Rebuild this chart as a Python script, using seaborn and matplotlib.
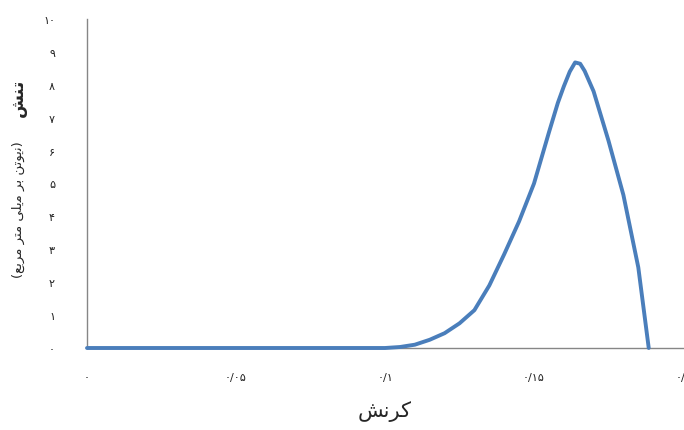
import matplotlib
matplotlib.use("Agg")
import matplotlib.pyplot as plt
import seaborn as sns
import pandas as pd

# Data
strain = [0.0, 0.05, 0.100, 0.105, 0.110, 0.115, 0.120, 0.125, 0.130, 0.135,
          0.140, 0.145, 0.150, 0.155, 0.158, 0.160, 0.162, 0.1638, 0.1655,
          0.167, 0.170, 0.175, 0.180, 0.185, 0.1885]
stress = [0.0, 0.0, 0.0, 0.03, 0.10, 0.25, 0.45, 0.75, 1.15, 1.90,
          2.85, 3.85, 5.00, 6.55, 7.45, 7.95, 8.40, 8.68, 8.64,
          8.42, 7.80, 6.30, 4.65, 2.45, 0.0]

x_ticks = [0.0, 0.05, 0.1, 0.15, 0.2]
x_tick_labels = ["۰", "۰/۰۵", "۰/۱", "۰/۱۵", "۰/۲"]
y_ticks = list(range(0, 11))
y_tick_labels = ["۰", "۱", "۲", "۳", "۴", "۵", "۶", "۷", "۸", "۹", "۱۰"]

# Persian labels (presentation forms, visual order, since matplotlib has no RTL shaping)
x_label = "\uFEB6\uFEE7\uFEAE\uFB90"                 # کرنش
y_label_main = "\uFEB6\uFEE8\uFE97"                  # تنش
y_label_unit = ("(" + "\uFECA\uFE91\uFEAE\uFEE3" + " " + "\uFEAE\uFE98\uFEE3" + " "
                + "\uFBFD\uFEE0\uFBFE\uFEE3" + " " + "\uFEAE\uFE91" + " "
                + "\uFEE6\uFE97\uFEEE\uFBFE\uFEE7" + ")")  # (نیوتن بر میلی متر مربع)

df = pd.DataFrame({"strain": strain, "stress": stress})

sns.set_theme(style="white")
plt.rcParams["font.family"] = ["DejaVu Sans"]

W, H = 684, 431
fig = plt.figure(figsize=(W / 100, H / 100), dpi=100)
ax = fig.add_axes([87 / W, 1 - 349 / H, (683 - 87) / W, (349 - 20) / H])

line_color = "#4A7EBB"
sns.lineplot(data=df, x="strain", y="stress", ax=ax, sort=False,
             color=line_color, linewidth=2.8, clip_on=False, zorder=5,
             solid_joinstyle="round", solid_capstyle="round")

ax.set_xlim(0, 0.2)
ax.set_ylim(0, 10)
ax.set_xticks(x_ticks)
ax.set_xticklabels(x_tick_labels, fontsize=8, color="#222222")
ax.set_yticks(y_ticks)
ax.set_yticklabels(y_tick_labels, fontsize=8, color="#222222")

for s in ["top", "right"]:
    ax.spines[s].set_visible(False)
for s in ["left", "bottom"]:
    ax.spines[s].set_color("#868686")
    ax.spines[s].set_linewidth(1.0)

ax.tick_params(axis="both", which="major", direction="out", length=5,
               width=1.0, color="#868686")
ax.tick_params(axis="y", pad=18)
ax.tick_params(axis="x", pad=12)
ax.set_xlabel("")
ax.set_ylabel("")

fig.text(385 / W, 1 - 412 / H, x_label, ha="center", va="center", fontsize=15)
fig.text(18 / W, 1 - 98 / H, y_label_main, ha="center", va="center",
         rotation=90, fontsize=12.5, fontweight="bold")
fig.text(18 / W, 1 - 210 / H, y_label_unit, ha="center", va="center",
         rotation=90, fontsize=9.5)

fig.savefig("out.png", dpi=100)
